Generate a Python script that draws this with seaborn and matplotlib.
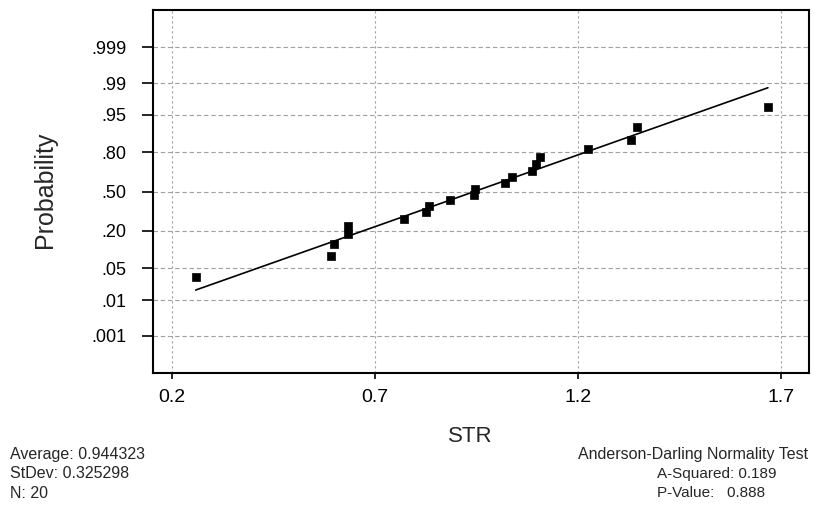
import numpy as np
import pandas as pd
import matplotlib
matplotlib.use("Agg")
import matplotlib.pyplot as plt
import seaborn as sns
from statistics import NormalDist

# ---- data ----
str_values = [0.259, 0.592, 0.600, 0.633, 0.635, 0.773, 0.826, 0.834, 0.885, 0.945,
              0.947, 1.020, 1.038, 1.088, 1.097, 1.107, 1.226, 1.331, 1.345, 1.668]
# median-rank probabilities of the ordered points
probabilities = [0.0343, 0.0833, 0.1324, 0.1814, 0.2304, 0.2794, 0.3284, 0.3775, 0.4265, 0.4755,
                 0.5245, 0.5735, 0.6225, 0.6716, 0.7206, 0.7696, 0.8186, 0.8676, 0.9167, 0.9657]
prob_ticks = [0.001, 0.01, 0.05, 0.20, 0.50, 0.80, 0.95, 0.99, 0.999]
prob_tick_labels = [".001", ".01", ".05", ".20", ".50", ".80", ".95", ".99", ".999"]
x_ticks = [0.2, 0.7, 1.2, 1.7]
x_tick_labels = ["0.2", "0.7", "1.2", "1.7"]
average = 0.944323
stdev = 0.325298
n_obs = 20
a_squared = 0.189
p_value = 0.888

nd = NormalDist()
df = pd.DataFrame({"STR": str_values,
                   "z": [nd.inv_cdf(p) for p in probabilities]})
line_x = [min(str_values), max(str_values)]
line_df = pd.DataFrame({"STR": line_x,
                        "z": [(v - average) / stdev for v in line_x]})

sns.set_theme(style="white")
plt.rcParams['font.family'] = ['Liberation Sans', 'DejaVu Sans']

W, H = 830, 508
fig = plt.figure(figsize=(8.3, 5.08), dpi=100)
ax_l, ax_r, ax_t, ax_b = 152.7, 809.3, 10.0, 373.3
ax = fig.add_axes([ax_l / W, 1 - ax_b / H, (ax_r - ax_l) / W, (ax_b - ax_t) / H])

# grid
for p in prob_ticks:
    ax.axhline(nd.inv_cdf(p), color="#a0a0a0", lw=0.8, ls=(0, (4, 2.5)), zorder=0)
for xv in x_ticks:
    ax.axvline(xv, color="#a0a0a0", lw=0.8, ls=(0, (2, 2.5)), zorder=0)

sns.lineplot(data=line_df, x="STR", y="z", color="black", lw=1.2, ax=ax, zorder=2)
sns.scatterplot(data=df, x="STR", y="z", marker="s", s=30, color="black",
                edgecolor="black", linewidth=0.5, ax=ax, zorder=3)

ax.set_xlim(0.153, 1.770)
ax.set_ylim(-3.89, 3.89)
ax.set_yticks([nd.inv_cdf(p) for p in prob_ticks])
ax.set_yticklabels(prob_tick_labels)
ax.set_xticks(x_ticks)
ax.set_xticklabels(x_tick_labels)
ax.tick_params(axis="y", labelsize=13, colors="black", length=8, width=1.2,
               direction="out", left=True, pad=11)
ax.tick_params(axis="x", labelsize=14, colors="black", length=4.5, width=1.2,
               direction="out", bottom=True, pad=7)
ax.set_xlabel("STR", fontsize=16)
ax.set_ylabel("Probability", fontsize=18)
ax.xaxis.set_label_coords((470 - ax_l) / (ax_r - ax_l), -(437 - ax_b) / (ax_b - ax_t))
ax.yaxis.set_label_coords(-(ax_l - 45) / (ax_r - ax_l), (ax_b - 190) / (ax_b - ax_t))
ax.xaxis.label.set_va("center")
ax.yaxis.label.set_va("center")
for s in ax.spines.values():
    s.set_color("black")
    s.set_linewidth(1.5)

# statistics text
fs = 11.5
fig.text(10 / W, 1 - 455 / H, f"Average: {average}", fontsize=fs, va="center", ha="left")
fig.text(10 / W, 1 - 474 / H, f"StDev: {stdev}", fontsize=fs, va="center", ha="left")
fig.text(10 / W, 1 - 493 / H, f"N: {n_obs}", fontsize=fs, va="center", ha="left")
fig.text(808 / W, 1 - 455 / H, "Anderson-Darling Normality Test", fontsize=fs,
         va="center", ha="right")
fig.text(657 / W, 1 - 474 / H, f"A-Squared: {a_squared}", fontsize=11, va="center", ha="left")
fig.text(657 / W, 1 - 493 / H, f"P-Value:   {p_value}", fontsize=11, va="center", ha="left")

fig.savefig("out.png", dpi=100)
